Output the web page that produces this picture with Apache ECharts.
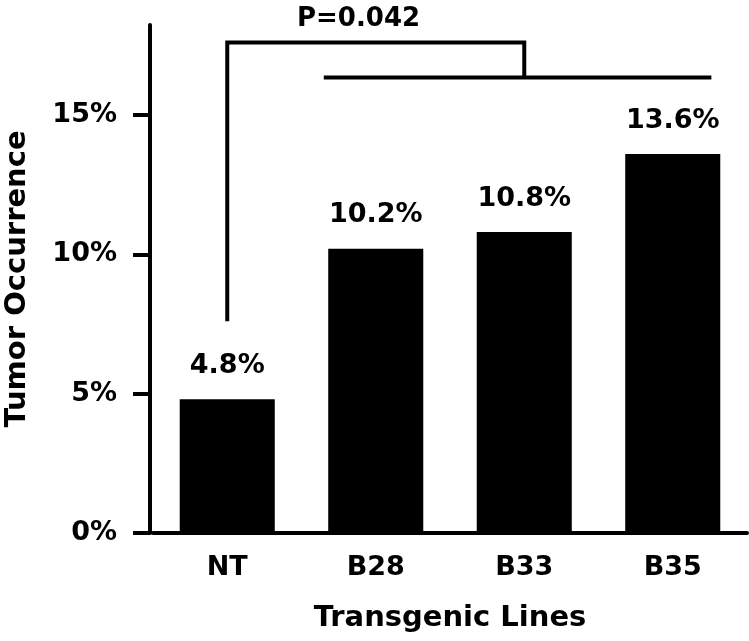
<!DOCTYPE html>
<html>
<head>
<meta charset="utf-8">
<script src="https://cdn.jsdelivr.net/npm/echarts@6/dist/echarts.min.js"></script>
<style>html,body{margin:0;padding:0;background:#fff;}#c{width:749px;height:641px;}</style>
</head>
<body>
<div id="c"></div>
<script>
var categories = ['NT', 'B28', 'B33', 'B35'];
var occurrence = [4.8, 10.2, 10.8, 13.6];
var barLabels = ['4.8%', '10.2%', '10.8%', '13.6%'];
var yTicks = [0, 5, 10, 15];
var pValueText = 'P=0.042';
// bracket: [NT start level, top level, lower level]
var bracketLevels = [7.6, 17.6, 16.35];
// lower line span in category index units
var lowerSpan = [0.65, 3.26];
var bracketDrop = [2];

var FONT = 'DejaVu Sans';
var chart = echarts.init(document.getElementById('c'));
chart.setOption({
  backgroundColor: '#fff',
  animation: false,
  grid: { left: 153, right: 2, top: 25, bottom: 108, outerBoundsMode: 'none', containLabel: false },
  xAxis: {
    type: 'category',
    data: categories,
    name: 'Transgenic Lines',
    nameLocation: 'middle',
    nameGap: 71,
    nameTextStyle: { fontFamily: FONT, fontWeight: 'bold', fontSize: 29, color: '#000' },
    axisLine: { lineStyle: { color: '#000', width: 4 } },
    axisTick: { show: false },
    axisLabel: { margin: 21, fontFamily: FONT, fontWeight: 'bold', fontSize: 27, color: '#000' }
  },
  yAxis: {
    type: 'value',
    offset: 3,
    min: 0, max: 18.23, interval: 5,
    name: 'Tumor Occurrence',
    nameLocation: 'middle',
    nameGap: 118,
    nameTextStyle: { fontFamily: FONT, fontWeight: 'bold', fontSize: 29, color: '#000' },
    splitLine: { show: false },
    axisLine: { show: true, lineStyle: { color: '#000', width: 4 } },
    axisTick: { show: true, length: 17, customValues: yTicks, lineStyle: { color: '#000', width: 4 } },
    axisLabel: { margin: 33, customValues: yTicks, fontFamily: FONT, fontWeight: 'bold', fontSize: 27, color: '#000',
      formatter: function (v) { return v + '%'; } }
  },
  graphic: [{
    type: 'text', left: 297, top: 6,
    style: { text: pValueText, font: 'bold 26px "DejaVu Sans"', fill: '#000' }
  }],
  series: [{
    type: 'bar',
    data: occurrence,
    barWidth: '64%',
    itemStyle: { color: '#000' },
    label: {
      show: true, position: 'top', distance: 20,
      fontFamily: FONT, fontWeight: 'bold', fontSize: 27, color: '#000',
      formatter: function (p) { return barLabels[p.dataIndex]; }
    }
  }, {
    type: 'custom',
    data: [[0, 0]],
    silent: true,
    z: 5,
    renderItem: function (params, api) {
      var band = api.size([1, 0])[0];
      var ntX = api.coord([0, 0])[0];
      var dropX = api.coord([bracketDrop[0], 0])[0];
      var yStart = api.coord([0, bracketLevels[0]])[1];
      var yTop = api.coord([0, bracketLevels[1]])[1];
      var yLow = api.coord([0, bracketLevels[2]])[1];
      var i0 = Math.floor(lowerSpan[0]), i1 = Math.floor(lowerSpan[1]);
      var lx0 = api.coord([i0, 0])[0] + (lowerSpan[0] - i0) * band;
      var lx1 = api.coord([i1, 0])[0] + (lowerSpan[1] - i1) * band;
      var st = { stroke: '#000', lineWidth: 4, fill: null };
      return {
        type: 'group',
        children: [
          { type: 'polyline', shape: { points: [[ntX, yStart], [ntX, yTop], [dropX, yTop], [dropX, yLow]] }, style: st },
          { type: 'line', shape: { x1: lx0, y1: yLow, x2: lx1, y2: yLow }, style: st }
        ]
      };
    }
  }]
});
</script>
</body>
</html>
